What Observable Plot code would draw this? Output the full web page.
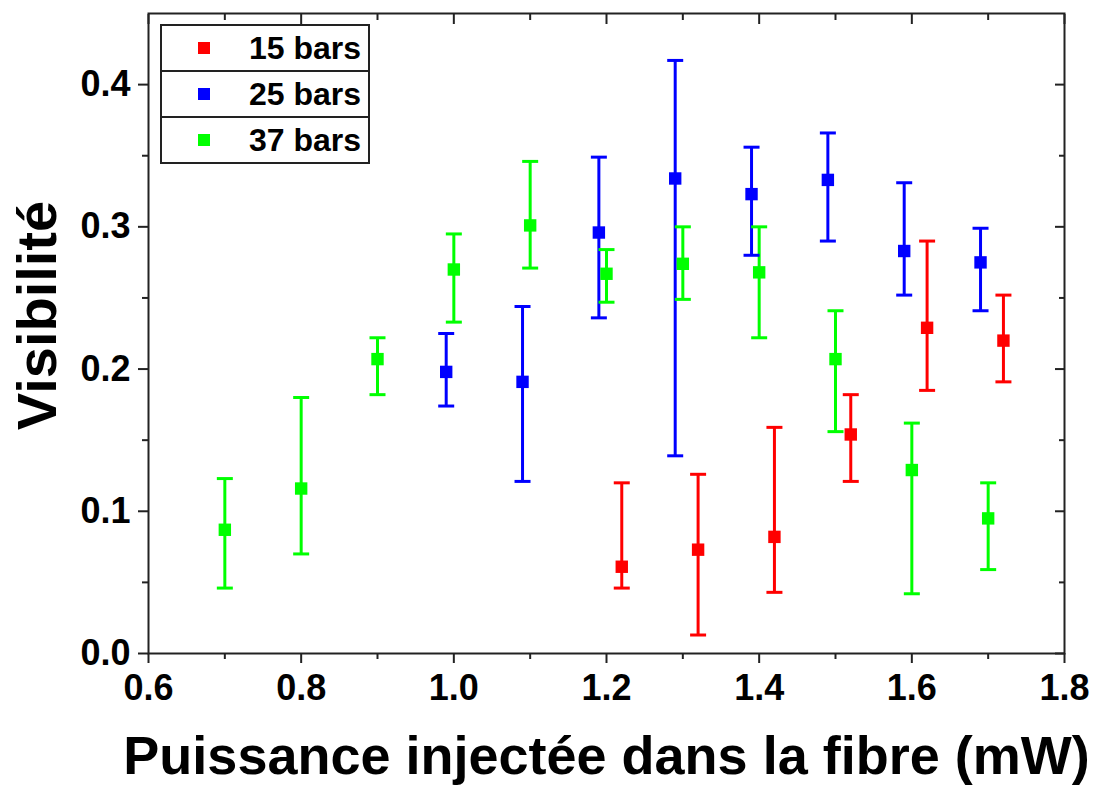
<!DOCTYPE html>
<html>
<head>
<meta charset="utf-8">
<script src="https://cdn.jsdelivr.net/npm/d3@7"></script>
<script src="https://cdn.jsdelivr.net/npm/@observablehq/plot@0.6"></script>
<style>
  body { margin: 0; background: #fff; }
  #wrap { position: relative; width: 1094px; height: 787px; font-family: "Liberation Sans", Arial, sans-serif; }
  #legend { position: absolute; left: 160px; top: 24px; width: 206px; border: 2px solid #222; background: #fff; }
  .row { height: 44px; display: flex; align-items: center; border-bottom: 2px solid #222; position: relative; }
  .row:last-child { border-bottom: none; }
  .sw { position: absolute; left: 36px; width: 12px; height: 12px; }
  .lab { position: absolute; right: 7px; font-weight: bold; font-size: 32px; color: #000; }
</style>
</head>
<body>
<div id="wrap"></div>
<script>
// Series names and colours
const seriesNames = ["15 bars", "25 bars", "37 bars"];
const seriesColors = ["#ff0000", "#0000ff", "#00ff00"];

// 15 bars
const x15  = [1.22, 1.32, 1.42, 1.52, 1.62, 1.72];
const v15  = [0.061, 0.073, 0.082, 0.154, 0.229, 0.220];
const lo15 = [0.046, 0.013, 0.043, 0.121, 0.185, 0.191];
const hi15 = [0.120, 0.126, 0.159, 0.182, 0.290, 0.252];

// 25 bars
const x25  = [0.99, 1.09, 1.19, 1.29, 1.39, 1.49, 1.59, 1.69];
const v25  = [0.198, 0.191, 0.296, 0.334, 0.323, 0.333, 0.283, 0.275];
const lo25 = [0.174, 0.121, 0.236, 0.139, 0.280, 0.290, 0.252, 0.241];
const hi25 = [0.225, 0.244, 0.349, 0.417, 0.356, 0.366, 0.331, 0.299];

// 37 bars
const x37  = [0.7, 0.8, 0.9, 1.0, 1.1, 1.2, 1.3, 1.4, 1.5, 1.6, 1.7];
const v37  = [0.087, 0.116, 0.207, 0.270, 0.301, 0.267, 0.274, 0.268, 0.207, 0.129, 0.095];
const lo37 = [0.046, 0.070, 0.182, 0.233, 0.271, 0.247, 0.249, 0.222, 0.156, 0.042, 0.059];
const hi37 = [0.123, 0.180, 0.222, 0.295, 0.346, 0.284, 0.300, 0.300, 0.241, 0.162, 0.120];

// Axis ticks
const xMajor = [0.6, 0.8, 1.0, 1.2, 1.4, 1.6, 1.8];
const xMinor = [0.7, 0.9, 1.1, 1.3, 1.5, 1.7];
const yMajor = [0.0, 0.1, 0.2, 0.3, 0.4];
const yMinor = [0.05, 0.15, 0.25, 0.35];

const xLabel = "Puissance injectée dans la fibre (mW)";
const yLabel = "Visibilité";

function rows(name, xs, vs, los, his) {
  return xs.map((x, i) => ({series: name, x, v: vs[i], lo: los[i], hi: his[i]}));
}
const data = [
  ...rows(seriesNames[0], x15, v15, lo15, hi15),
  ...rows(seriesNames[1], x25, v25, lo25, hi25),
  ...rows(seriesNames[2], x37, v37, lo37, hi37)
];

const cap = {
  draw(ctx, size) {
    const r = Math.sqrt(size / Math.PI);
    ctx.moveTo(-r, 0);
    ctx.lineTo(r, 0);
  }
};

const font = {fontSize: 36, fontWeight: "bold"};
const ink = "#222";

const chart = Plot.plot({
  width: 1094,
  height: 787,
  marginLeft: 148,
  marginRight: 30,
  marginTop: 13,
  marginBottom: 134,
  style: {fontFamily: "'Liberation Sans', Arial, sans-serif", color: "#000", background: "#fff"},
  x: {domain: [0.6, 1.8]},
  y: {domain: [0, 0.45]},
  color: {domain: seriesNames, range: seriesColors},
  marks: [
    // axes
    Plot.axisY({ticks: yMajor, tickSize: 10, tickPadding: 8, tickFormat: d3.format(".1f"), label: null, stroke: ink, strokeWidth: 2, ...font}),
    Plot.axisY({ticks: yMinor, tickSize: 6, text: null, label: null, stroke: ink, strokeWidth: 2}),
    Plot.axisY({anchor: "right", ticks: yMajor, tickSize: -10, text: null, label: null, stroke: ink, strokeWidth: 2}),
    Plot.axisY({anchor: "right", ticks: yMinor, tickSize: -6, text: null, label: null, stroke: ink, strokeWidth: 2}),
    Plot.axisX({ticks: xMajor, tickSize: 10, tickPadding: 11, tickFormat: d3.format(".1f"), label: null, stroke: ink, strokeWidth: 2, ...font}),
    Plot.axisX({ticks: xMinor, tickSize: 6, text: null, label: null, stroke: ink, strokeWidth: 2}),
    Plot.axisX({anchor: "top", ticks: xMajor, tickSize: -10, text: null, label: null, stroke: ink, strokeWidth: 2}),
    Plot.axisX({anchor: "top", ticks: xMinor, tickSize: -6, text: null, label: null, stroke: ink, strokeWidth: 2}),
    Plot.frame({stroke: ink, strokeWidth: 2}),
    // error bars
    Plot.ruleX(data, {x: "x", y1: "lo", y2: "hi", stroke: "series", strokeWidth: 3}),
    Plot.dot(data, {x: "x", y: "hi", symbol: cap, r: 8, stroke: "series", strokeWidth: 3, fill: "none"}),
    Plot.dot(data, {x: "x", y: "lo", symbol: cap, r: 8, stroke: "series", strokeWidth: 3, fill: "none"}),
    // markers
    Plot.dot(data, {x: "x", y: "v", symbol: "square", r: 7, fill: "series", stroke: "none"}),
    // axis labels
    Plot.text([xLabel], {frameAnchor: "bottom", dy: 120, fontSize: 54, fontWeight: "bold", fill: "#000"}),
    Plot.text([yLabel], {frameAnchor: "left", textAnchor: "middle", dx: -110, dy: -18, rotate: -90, fontSize: 56, fontWeight: "bold", fill: "#000"})
  ]
});

const wrap = document.getElementById("wrap");
wrap.appendChild(chart);

const legend = document.createElement("div");
legend.id = "legend";
seriesNames.forEach((name, i) => {
  const row = document.createElement("div");
  row.className = "row";
  const sw = document.createElement("div");
  sw.className = "sw";
  sw.style.background = seriesColors[i];
  const lab = document.createElement("div");
  lab.className = "lab";
  lab.textContent = name;
  row.appendChild(sw);
  row.appendChild(lab);
  legend.appendChild(row);
});
wrap.appendChild(legend);
</script>
</body>
</html>
